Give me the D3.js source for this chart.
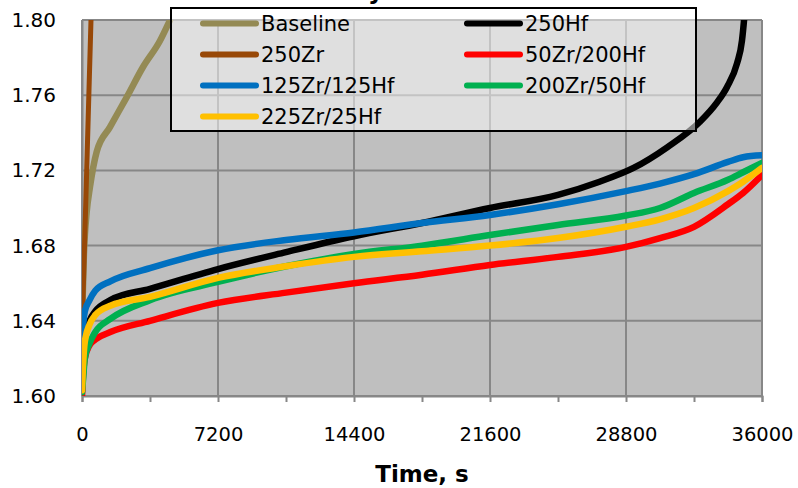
<!DOCTYPE html>
<html>
<head>
<meta charset="utf-8">
<script src="https://cdn.jsdelivr.net/npm/d3@7"></script>
<style>
  html, body { margin: 0; padding: 0; background: #ffffff; }
  svg { display: block; font-family: "DejaVu Sans", sans-serif; }
</style>
</head>
<body>
<svg id="chart"></svg>
<script>
// ----- data -----
let timeTicks = [0, 7200, 14400, 21600, 28800, 36000];
let valueTicks = [1.60, 1.64, 1.68, 1.72, 1.76, 1.80];

// shared time grid (s) for four of the slow curves
let times = [0, 50, 150, 400, 700, 1500, 3600, 7200, 10800, 14400, 18000, 21600, 25200, 28800, 30600, 32400, 34200, 35000, 36000];
let zr125hf125 = [1.622, 1.636, 1.645, 1.651, 1.656, 1.661, 1.668, 1.6775, 1.683, 1.687, 1.692, 1.6963, 1.702, 1.709, 1.713, 1.718, 1.7245, 1.727, 1.728];
let zr200hf50 = [1.602, 1.608, 1.620, 1.628, 1.634, 1.641, 1.651, 1.6607, 1.669, 1.6755, 1.680, 1.6856, 1.691, 1.696, 1.700, 1.708, 1.715, 1.719, 1.724];
let zr225hf25 = [1.603, 1.615, 1.629, 1.638, 1.643, 1.648, 1.6527, 1.6628, 1.669, 1.674, 1.677, 1.680, 1.684, 1.690, 1.694, 1.700, 1.709, 1.714, 1.7213];
let zr50hf200 = [1.600, 1.610, 1.620, 1.627, 1.630, 1.634, 1.640, 1.6495, 1.655, 1.660, 1.6645, 1.6697, 1.674, 1.6793, 1.684, 1.690, 1.702, 1.708, 1.7176];

// 250Hf turns up sharply at the end, so it gets its own time points
let hf250Times = [0, 50, 150, 400, 700, 1500, 3600, 7200, 10800, 14400, 18000, 21600, 25200, 27400, 29200, 31000, 32700, 33600, 34150, 34680, 34940, 35050, 35200];
let hf250 = [1.603, 1.618, 1.630, 1.640, 1.645, 1.651, 1.657, 1.6675, 1.6765, 1.685, 1.692, 1.700, 1.707, 1.714, 1.7213, 1.7324, 1.7457, 1.7559, 1.7644, 1.777, 1.789, 1.800, 1.820];

// the two fast curves
let baselineTimes = [0, 100, 250, 420, 780, 1480, 2370, 3230, 4130, 4660, 5200];
let baselineValues = [1.640, 1.675, 1.698, 1.711, 1.730, 1.743, 1.759, 1.775, 1.789, 1.800, 1.812];
let zr250Times = [0, 36, 200, 476, 520];
let zr250Values = [1.625, 1.6457, 1.703, 1.800, 1.815];

let seriesNames = ["Baseline", "250Zr", "250Hf", "50Zr/200Hf", "125Zr/125Hf", "200Zr/50Hf", "225Zr/25Hf"];
let seriesColors = ["#948a54", "#984807", "#000000", "#ff0000", "#0070c0", "#00b050", "#ffc000"];

function pairs(ts, vs) {
    return ts.map((t, i) => ({ t: t, v: vs[i] }));
}

let series = [
    { name: "Baseline", data: pairs(baselineTimes, baselineValues), curve: d3.curveMonotoneX },
    { name: "250Zr", data: pairs(zr250Times, zr250Values), curve: d3.curveLinear },
    { name: "250Hf", data: pairs(hf250Times, hf250), curve: d3.curveMonotoneX },
    { name: "50Zr/200Hf", data: pairs(times, zr50hf200), curve: d3.curveMonotoneX },
    { name: "125Zr/125Hf", data: pairs(times, zr125hf125), curve: d3.curveMonotoneX },
    { name: "200Zr/50Hf", data: pairs(times, zr200hf50), curve: d3.curveMonotoneX },
    { name: "225Zr/25Hf", data: pairs(times, zr225hf25), curve: d3.curveMonotoneX }
];

// ----- layout -----
let svgWidth = 798;
let svgHeight = 488;
let margin = { top: 20, right: 36, bottom: 92, left: 82 };
let width = svgWidth - margin.left - margin.right;
let height = svgHeight - margin.top - margin.bottom;
let gridColor = "#878787";

let svg = d3.select("#chart")
    .attr("width", svgWidth)
    .attr("height", svgHeight);

let x = d3.scaleLinear().domain([0, 36000]).range([0, width]);
let y = d3.scaleLinear().domain([1.60, 1.80]).range([height, 0]);
let color = d3.scaleOrdinal().domain(seriesNames).range(seriesColors);

// chart title sits mostly above the picture, only a descender shows
svg.append("text")
    .attr("x", 368)
    .attr("y", -1)
    .attr("font-size", 24)
    .attr("font-weight", "bold")
    .text("y");

let plot = svg.append("g")
    .attr("transform", `translate(${margin.left}, ${margin.top})`);

plot.append("rect")
    .attr("width", width)
    .attr("height", height)
    .attr("fill", "#bfbfbf");

svg.append("defs").append("clipPath")
    .attr("id", "clip")
    .append("rect")
    .attr("width", width)
    .attr("height", height);

// grid lines
plot.append("g")
    .selectAll("line")
    .data(valueTicks)
    .enter()
    .append("line")
    .attr("x1", 0)
    .attr("x2", width)
    .attr("y1", d => y(d))
    .attr("y2", d => y(d))
    .attr("stroke", gridColor)
    .attr("stroke-width", 2);

plot.append("g")
    .selectAll("line")
    .data(timeTicks)
    .enter()
    .append("line")
    .attr("x1", d => x(d))
    .attr("x2", d => x(d))
    .attr("y1", 0)
    .attr("y2", height)
    .attr("stroke", gridColor)
    .attr("stroke-width", 2);

// x axis with minor ticks
let axisX = d3.axisBottom(x)
    .tickValues(d3.range(0, 36001, 3600))
    .tickSize(6)
    .tickFormat(d => (d % 7200 === 0 ? d : ""));

let groupX = plot.append("g")
    .attr("transform", `translate(0, ${height})`)
    .call(axisX);
groupX.select(".domain").attr("stroke", gridColor).attr("stroke-width", 2);
groupX.selectAll(".tick line").attr("stroke", gridColor).attr("stroke-width", 2);
groupX.selectAll(".tick text")
    .attr("font-family", "DejaVu Sans, sans-serif")
    .attr("font-size", 19.5)
    .attr("fill", "#000")
    .attr("dy", 0)
    .attr("y", 45);

// y axis, labels only
let axisY = d3.axisLeft(y)
    .tickValues(valueTicks)
    .tickSize(0)
    .tickPadding(26)
    .tickFormat(d3.format(".2f"));

let groupY = plot.append("g").call(axisY);
groupY.select(".domain").attr("stroke", gridColor).attr("stroke-width", 2);
groupY.selectAll(".tick text")
    .attr("font-family", "DejaVu Sans, sans-serif")
    .attr("font-size", 20)
    .attr("fill", "#000");

// curves
let lines = plot.append("g").attr("clip-path", "url(#clip)");
series.forEach(s => {
    let line = d3.line()
        .x(d => x(d.t))
        .y(d => y(d.v))
        .curve(s.curve);
    lines.append("path")
        .datum(s.data)
        .attr("d", line)
        .attr("fill", "none")
        .attr("stroke", color(s.name))
        .attr("stroke-width", s.name === "250Zr" ? 5 : 6.5)
        .attr("stroke-linejoin", "round")
        .attr("stroke-linecap", "round");
});

// axis title
svg.append("text")
    .attr("x", margin.left + width / 2)
    .attr("y", 482)
    .attr("text-anchor", "middle")
    .attr("font-size", 23)
    .attr("font-weight", "bold")
    .text("Time, s");

// legend
let legendCols = [
    ["Baseline", "250Zr", "125Zr/125Hf", "225Zr/25Hf"],
    ["250Hf", "50Zr/200Hf", "200Zr/50Hf"]
];
let legend = svg.append("g");
legend.append("rect")
    .attr("x", 171)
    .attr("y", 8)
    .attr("width", 525)
    .attr("height", 123)
    .attr("fill", "#ffffff")
    .attr("fill-opacity", 0.5)
    .attr("stroke", "#000")
    .attr("stroke-width", 2);

let colX = [203, 467];
legendCols.forEach((names, c) => {
    let rows = legend.selectAll(null)
        .data(names)
        .enter()
        .append("g")
        .attr("transform", (d, i) => `translate(${colX[c]}, ${31 + i * 31})`);
    rows.append("line")
        .attr("x1", 0)
        .attr("x2", 53)
        .attr("y1", -7.5)
        .attr("y2", -7.5)
        .attr("stroke", d => color(d))
        .attr("stroke-width", 6)
        .attr("stroke-linecap", "round");
    rows.append("text")
        .attr("x", 58)
        .attr("font-size", 21)
        .attr("fill", "#000")
        .text(d => d);
});
</script>
</body>
</html>
